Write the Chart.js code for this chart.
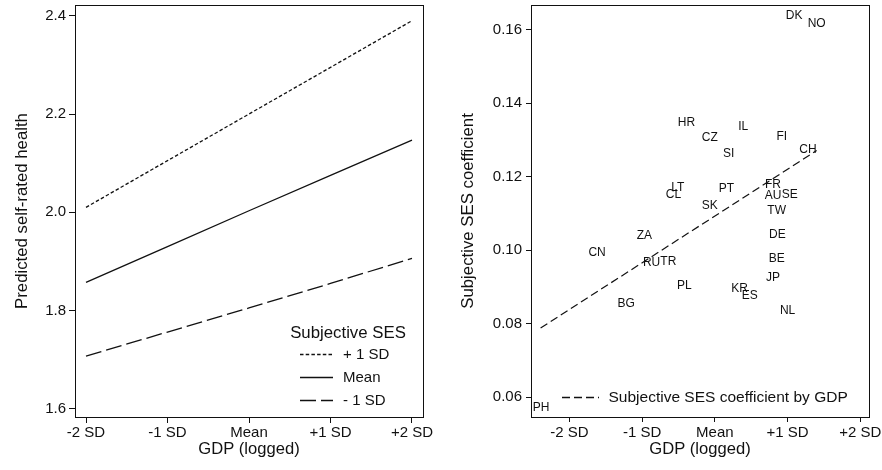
<!DOCTYPE html>
<html>
<head>
<meta charset="utf-8">
<script src="https://cdn.jsdelivr.net/npm/chart.js@4.4.0/dist/chart.umd.min.js"></script>
<style>
  html, body { margin: 0; padding: 0; background: #fff; }
  #wrap { position: relative; width: 882px; height: 470px; }
  .panel { position: absolute; top: 0; width: 441px; height: 470px; }
</style>
</head>
<body>
<div id="wrap">
  <div class="panel" style="left:0"><canvas id="chart-left" width="441" height="470"></canvas></div>
  <div class="panel" style="left:441px"><canvas id="chart-right" width="441" height="470"></canvas></div>
</div>
<script>
'use strict';

// shared x axis (GDP, in SD units)
const gdpTicks = [-2, -1, 0, 1, 2];
const gdpTickLabels = ['-2 SD', '-1 SD', 'Mean', '+1 SD', '+2 SD'];

// left panel: predicted self-rated health by subjective SES
const sesNames = ['+ 1 SD', 'Mean', '- 1 SD'];
const sesPlusOne = [2.010, 2.105, 2.200, 2.295, 2.390];
const sesMean = [1.857, 1.930, 2.003, 2.075, 2.147];
const sesMinusOne = [1.707, 1.756, 1.805, 1.855, 1.906];
const healthTicks = [1.6, 1.8, 2.0, 2.2, 2.4];

// right panel: country coefficients
const countries = ['DK', 'NO', 'HR', 'IL', 'FI', 'CZ', 'SI', 'CH', 'LT', 'CL', 'PT', 'FR', 'AU', 'SE',
  'TW', 'SK', 'DE', 'ZA', 'CN', 'RU', 'TR', 'BE', 'JP', 'PL', 'KR', 'ES', 'BG', 'NL', 'PH'];
const countryGdp = [1.09, 1.40, -0.39, 0.39, 0.92, -0.07, 0.19, 1.28, -0.51, -0.57, 0.16, 0.80, 0.80, 1.03,
  0.85, -0.07, 0.86, -0.97, -1.62, -0.87, -0.64, 0.85, 0.80, -0.42, 0.34, 0.48, -1.22, 1.00, -2.39];
const countryCoef = [0.1638, 0.1615, 0.1347, 0.1336, 0.1309, 0.1305, 0.1263, 0.1273, 0.1171, 0.1151, 0.1166,
  0.1178, 0.1148, 0.1152, 0.1108, 0.1121, 0.1042, 0.1040, 0.0993, 0.0965, 0.0969, 0.0978, 0.0926, 0.0902,
  0.0895, 0.0876, 0.0855, 0.0836, 0.0570];
const fitGdp = [-2.397, 1.40];
const fitCoef = [0.0788, 0.1271];
const coefTicks = [0.06, 0.08, 0.10, 0.12, 0.14, 0.16];
const fitName = 'Subjective SES coefficient by GDP';

const FONT = '"Liberation Sans", Arial, Helvetica, sans-serif';
const INK = '#111';

Chart.defaults.font.family = FONT;
Chart.defaults.color = INK;

function pts(xs, ys) {
  return xs.map((x, i) => ({ x, y: ys[i] }));
}

function gdpLabel(v) {
  const i = gdpTicks.indexOf(v);
  return i < 0 ? '' : gdpTickLabels[i];
}

function xScale(min, max, tl, pad) {
  return {
    type: 'linear', min, max,
    afterBuildTicks: (s) => { s.ticks = gdpTicks.map((v) => ({ value: v })); },
    afterFit: (s) => { s.height = 53; s.paddingLeft = 0; s.paddingRight = 0; },
    grid: { drawOnChartArea: false, drawTicks: true, tickLength: tl, color: INK, lineWidth: 1 },
    border: { display: true, color: INK, width: 1 },
    ticks: { autoSkip: false, maxRotation: 0, padding: pad, font: { size: 15 }, color: INK, callback: gdpLabel },
    title: { display: true, text: 'GDP (logged)', font: { size: 16.6 }, color: INK, padding: { top: 0, bottom: 11 } }
  };
}

function yScale(min, max, ticks, digits, width, title, titlePad, tl, pad) {
  return {
    type: 'linear', min, max,
    afterBuildTicks: (s) => { s.ticks = ticks.map((v) => ({ value: v })); },
    afterFit: (s) => { s.width = width; s.paddingTop = 0; s.paddingBottom = 0; },
    grid: { drawOnChartArea: false, drawTicks: true, tickLength: tl, color: INK, lineWidth: 1 },
    border: { display: true, color: INK, width: 1 },
    ticks: { padding: pad, font: { size: 15 }, color: INK, callback: (v) => v.toFixed(digits) },
    title: { display: true, text: title, font: { size: 16.8 }, color: INK, padding: { top: titlePad, bottom: 0 } }
  };
}

// full frame round the plot area
const frame = {
  id: 'frame',
  afterDraw(chart) {
    const { ctx, chartArea: a } = chart;
    ctx.save();
    ctx.strokeStyle = INK;
    ctx.lineWidth = 1;
    ctx.strokeRect(Math.round(a.left) + 0.5, Math.round(a.top) + 0.5,
      Math.round(a.right - a.left), Math.round(a.bottom - a.top));
    ctx.restore();
  }
};

const leftLegend = {
  id: 'leftLegend',
  afterDraw(chart) {
    const { ctx, chartArea: a } = chart;
    ctx.save();
    ctx.fillStyle = INK;
    ctx.textBaseline = 'middle';
    ctx.font = '16.8px ' + FONT;
    ctx.textAlign = 'center';
    ctx.fillText('Subjective SES', a.right - 75, a.bottom - 84);
    ctx.font = '15px ' + FONT;
    ctx.textAlign = 'left';
    chart.data.datasets.forEach((ds, i) => {
      const y = Math.round(a.bottom - 63 + i * 23) + 0.5;
      ctx.strokeStyle = INK;
      ctx.lineWidth = ds.borderWidth;
      ctx.setLineDash(ds.borderDash || []);
      ctx.beginPath();
      ctx.moveTo(a.right - 123, y);
      ctx.lineTo(a.right - 90, y);
      ctx.stroke();
      ctx.fillText(ds.label, a.right - 80, y);
    });
    ctx.restore();
  }
};

const countryLabels = {
  id: 'countryLabels',
  afterDatasetsDraw(chart) {
    const { ctx } = chart;
    const meta = chart.getDatasetMeta(1);
    ctx.save();
    ctx.fillStyle = INK;
    ctx.font = '12px ' + FONT;
    ctx.textAlign = 'center';
    ctx.textBaseline = 'middle';
    meta.data.forEach((p, i) => ctx.fillText(countries[i], p.x, p.y));
    ctx.restore();
  }
};

const rightLegend = {
  id: 'rightLegend',
  afterDraw(chart) {
    const { ctx, chartArea: a } = chart;
    const ds = chart.data.datasets[0];
    const y = Math.round(a.bottom - 20) + 0.5;
    ctx.save();
    ctx.strokeStyle = INK;
    ctx.lineWidth = 1.4;
    ctx.setLineDash(ds.borderDash);
    ctx.beginPath();
    ctx.moveTo(a.left + 31, y);
    ctx.lineTo(a.left + 68, y);
    ctx.stroke();
    ctx.fillStyle = INK;
    ctx.font = '15.5px ' + FONT;
    ctx.textAlign = 'left';
    ctx.textBaseline = 'middle';
    ctx.fillText(ds.label, a.left + 77.5, y);
    ctx.restore();
  }
};

const lineDs = (label, ys, dash) => ({
  label, data: pts(gdpTicks, ys), borderColor: INK, borderWidth: 1.3, borderDash: dash,
  pointRadius: 0, tension: 0, fill: false
});

new Chart(document.getElementById('chart-left'), {
  type: 'line',
  data: {
    datasets: [
      lineDs(sesNames[0], sesPlusOne, [3.5, 2.2]),
      lineDs(sesNames[1], sesMean, []),
      lineDs(sesNames[2], sesMinusOne, [16, 5])
    ]
  },
  options: {
    responsive: false, animation: false, devicePixelRatio: 1,
    layout: { padding: { top: 5, right: 18, left: 0, bottom: 0 } },
    plugins: { legend: { display: false }, tooltip: { enabled: false } },
    scales: {
      x: xScale(-2.135, 2.135, 6, 1),
      y: yScale(1.583, 2.422, healthTicks, 1, 75, 'Predicted self-rated health', 12, 6, 3)
    }
  },
  plugins: [frame, leftLegend]
});

new Chart(document.getElementById('chart-right'), {
  type: 'scatter',
  data: {
    datasets: [
      {
        type: 'line', label: fitName, data: pts(fitGdp, fitCoef), borderColor: INK, borderWidth: 1.2,
        borderDash: [8, 4], pointRadius: 0, tension: 0, fill: false
      },
      { label: 'countries', data: pts(countryGdp, countryCoef), pointRadius: 0, showLine: false }
    ]
  },
  options: {
    responsive: false, animation: false, devicePixelRatio: 1,
    layout: { padding: { top: 5, right: 13, left: 0, bottom: 0 } },
    plugins: { legend: { display: false }, tooltip: { enabled: false } },
    scales: {
      x: xScale(-2.529, 2.12, 5, 2),
      y: yScale(0.0546, 0.1667, coefTicks, 2, 90, 'Subjective SES coefficient', 17, 5, 4)
    }
  },
  plugins: [frame, countryLabels, rightLegend]
});
</script>
</body>
</html>
